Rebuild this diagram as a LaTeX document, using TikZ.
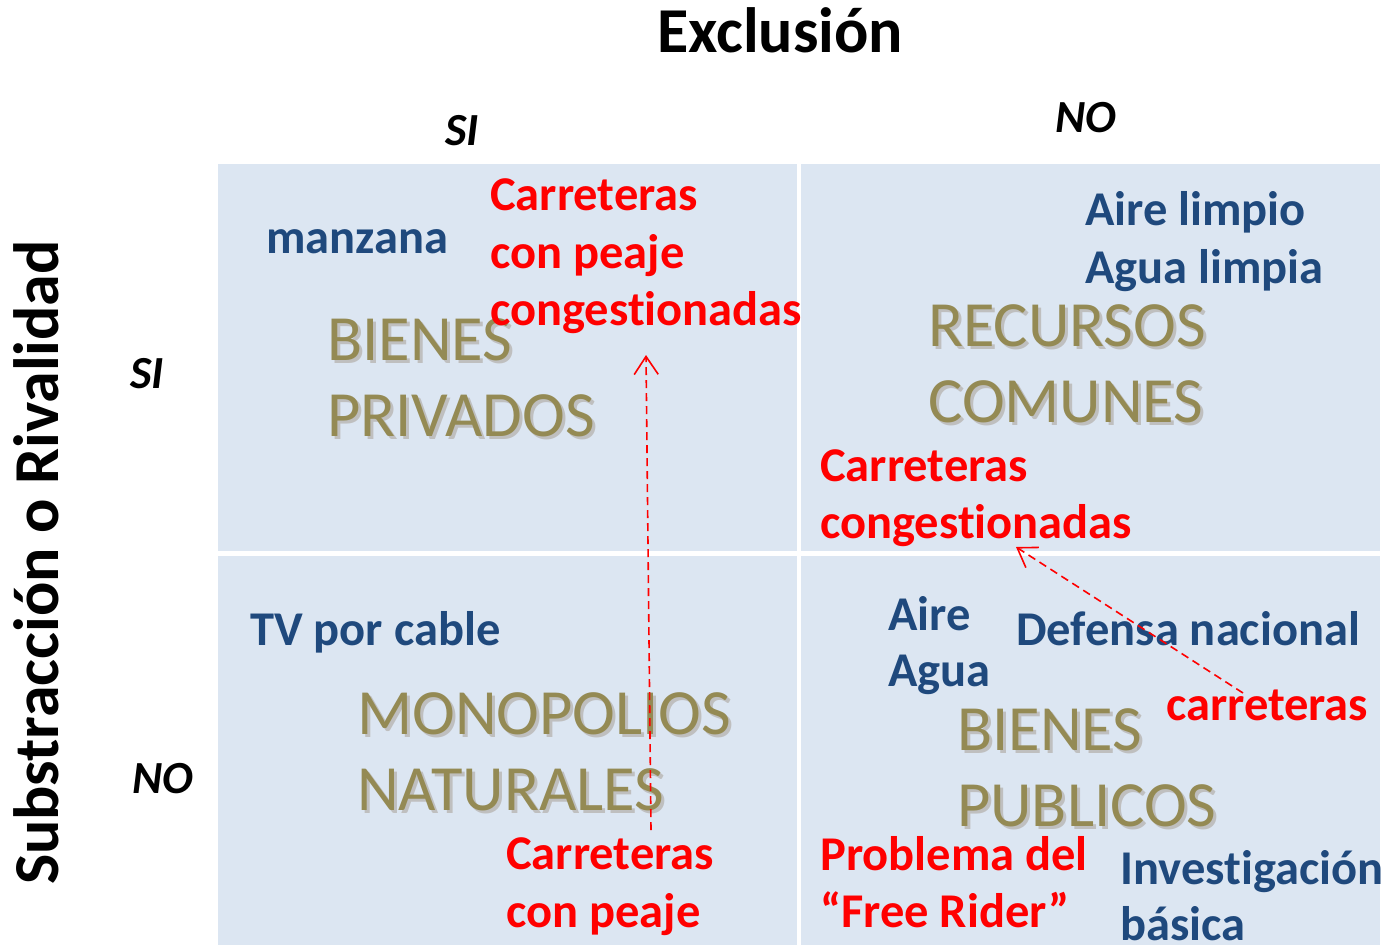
\documentclass[tikz,border=0pt]{standalone}
\usepackage{fontspec}
\setmainfont{Carlito}[Ligatures={NoCommon,NoRare,NoContextual}]
\usetikzlibrary{arrows.meta,calc}
\definecolor{cellbg}{HTML}{DCE6F2}
\definecolor{darkblue}{HTML}{1F497D}
\definecolor{olive}{HTML}{948A54}
\definecolor{shadowgray}{HTML}{BFBFBF}
\tikzset{
  x=1pt,y=-1pt,
  cell/.style={fill=cellbg,draw=none},
  lbl/.style={anchor=base west,inner sep=0pt,font=\fontsize{48.5}{58}\selectfont\bfseries},
  bluetxt/.style={lbl,text=darkblue},
  redtxt/.style={lbl,text=red},
  axis/.style={anchor=base west,inner sep=0pt,font=\fontsize{64}{76}\selectfont\bfseries},
  yesno/.style={anchor=base west,inner sep=0pt,font=\fontsize{46}{55}\selectfont\bfseries\itshape},
  bigtxt/.style={anchor=base west,inner sep=0pt,font=\fontsize{64.5}{76}\selectfont,text=olive},
  bigshadow/.style={anchor=base west,inner sep=0pt,font=\fontsize{64.5}{76}\selectfont,text=shadowgray},
  link/.style={draw=red,line width=1.6pt,dash pattern=on 8pt off 5pt,
    -{Straight Barb[length=18pt,width=24pt,line width=1.6pt]}}
}
\newcommand{\bigword}[3]{%
  \node[bigshadow] at ($(#1,#2)+(3,3)$) {#3};
  \node[bigtxt] at (#1,#2) {#3};}
\begin{document}
\begin{tikzpicture}
\useasboundingbox (0,0) rectangle (1385,945);
\fill[white] (0,0) rectangle (1385,945);
% cells
\fill[cell] (218,164) rectangle (797,551);
\fill[cell] (801,164) rectangle (1380,551);
\fill[cell] (218,556) rectangle (797,945);
\fill[cell] (801,556) rectangle (1380,945);
% axes
\node[axis] (excl) at (657,52) {Exclusión};
\node[axis,rotate=90] (rival) at (58,885) {Substracción o Rivalidad};
\node[yesno] (sitop) at (445,145) {SI};
\node[yesno] (notop) at (1055,132) {NO};
\node[yesno] (sileft) at (130,388) {SI};
\node[yesno] (noleft) at (132,793) {NO};
% big category labels
\bigword{327}{360}{BIENES}
\bigword{327}{436}{PRIVADOS}
\bigword{928}{346}{RECURSOS}
\bigword{928}{422}{COMUNES}
\bigword{357}{734}{MONOPOLIOS}
\bigword{357}{810}{NATURALES}
\bigword{957}{750}{BIENES}
\bigword{957}{826}{PUBLICOS}
% top-left
\node[bluetxt] (manz) at (266,253) {manzana};
\node[redtxt] (cpc1) at (490,210) {Carreteras};
\node[redtxt] (cpc2) at (490,268) {con peaje};
\node[redtxt] (cpc3) at (490,325) {congest\kern0pt ionadas};
% top-right
\node[bluetxt] (aire1) at (1085,225) {Aire limpio};
\node[bluetxt] (agua1) at (1085,283) {Agua limpia};
\node[redtxt] (cc1) at (820,481) {Carreteras};
\node[redtxt] (cc2) at (820,538) {congest\kern0pt ionadas};
% bottom-left
\node[bluetxt] (tv) at (250,645) {TV por cable};
\node[redtxt] (cp1) at (506,869) {Carreteras};
\node[redtxt] (cp2) at (506,927) {con peaje};
% bottom-right
\node[bluetxt] (aire2) at (888,630) {Aire};
\node[bluetxt] (agua2) at (888,686) {Agua};
\node[bluetxt] (def) at (1016,645) {Defensa nacional};
\node[redtxt] (carr) at (1166,720) {carreteras};
\node[redtxt] (fr1) at (820,870) {Problema del};
\node[redtxt] (fr2) at (820,927) {“Free Rider”};
\node[bluetxt] (inv1) at (1120,884) {Invest\kern0pt igación};
\node[bluetxt] (inv2) at (1120,940) {básica};
% connectors
\coordinate (a1s) at (651,830);
\coordinate (a1e) at (646,355);
\coordinate (a2s) at (1243,693);
\coordinate (a2e) at (1016,547);
\draw[link] (a1s) -- (a1e);
\draw[link] (a2s) -- (a2e);
\end{tikzpicture}
\end{document}
